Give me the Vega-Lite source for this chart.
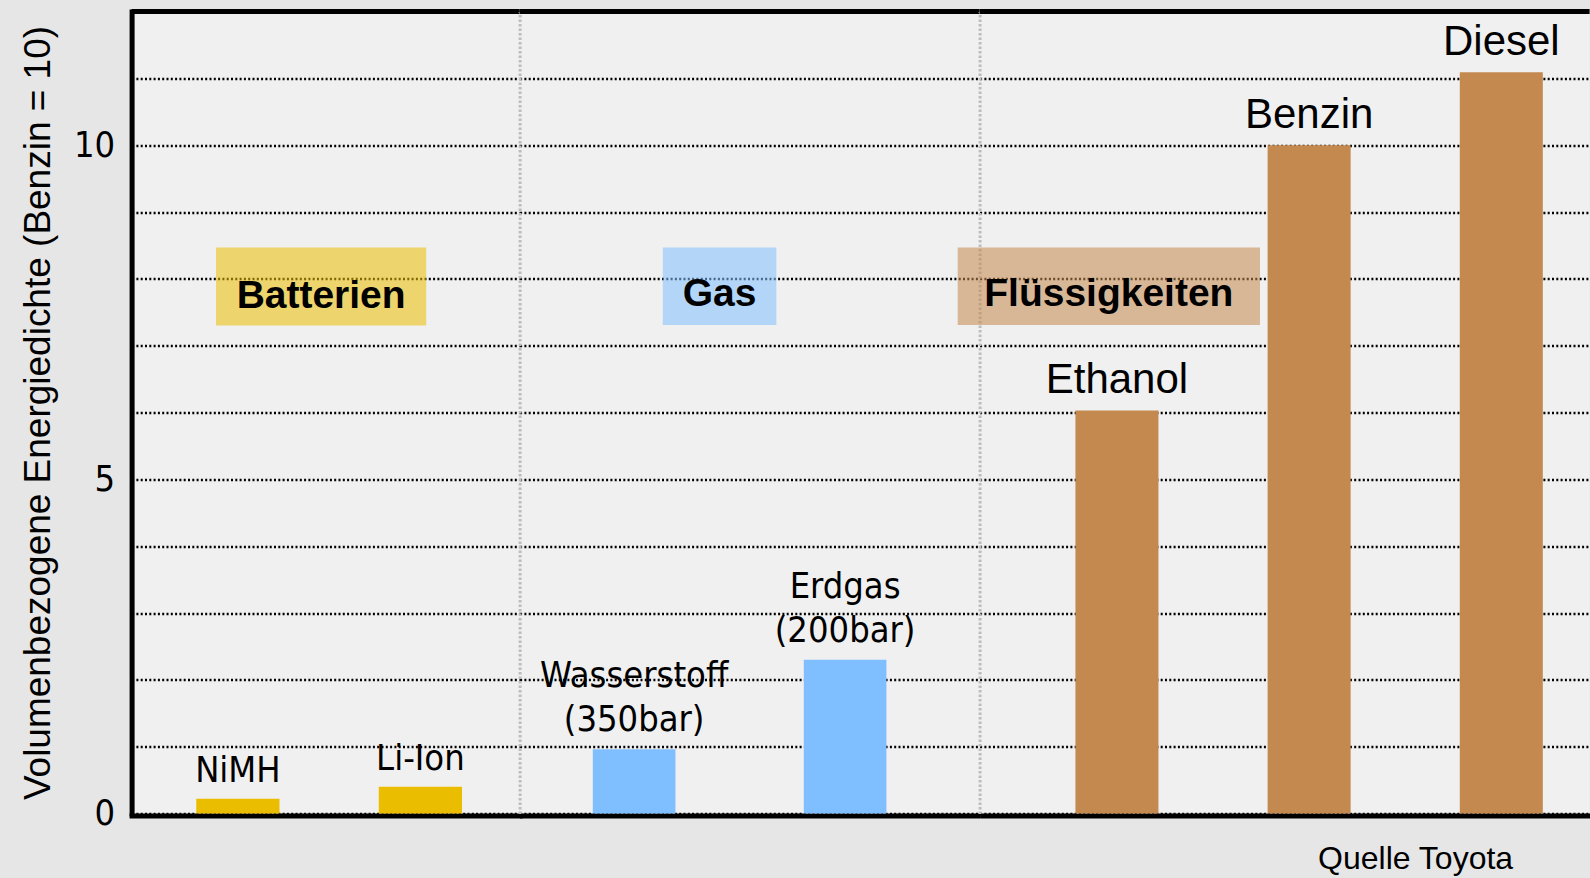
{
  "$schema": "https://vega.github.io/schema/vega-lite/v6.json",
  "background": "#e6e6e6",
  "padding": {"left": 18.6, "top": 8.5, "right": 0, "bottom": 3},
  "autosize": {"type": "pad"},
  "bounds": "flush",
  "spacing": 0,
  "config": {
    "view": {"fill": "#f0f0f0", "stroke": null},
    "font": "Liberation Sans",
    "axis": {"labelColor": "black", "titleColor": "black", "ticks": false, "tickSize": 0}
  },
  "datasets": {
    "fuels": [
      {"name": "NiMH", "label": "NiMH", "group": "Batterien", "value": 0.22},
      {"name": "Li-Ion", "label": "Li-Ion", "group": "Batterien", "value": 0.4},
      {"name": "Wasserstoff (350bar)", "label": "Wasserstoff\n(350bar)", "group": "Gas", "value": 0.96},
      {"name": "Erdgas (200bar)", "label": "Erdgas\n(200bar)", "group": "Gas", "value": 2.3},
      {"name": "Ethanol", "label": "Ethanol", "group": "Flüssigkeiten", "value": 6.03},
      {"name": "Benzin", "label": "Benzin", "group": "Flüssigkeiten", "value": 10},
      {"name": "Diesel", "label": "Diesel", "group": "Flüssigkeiten", "value": 11.09}
    ],
    "groups": [
      {"group": "Batterien", "from": "NiMH", "to": "Li-Ion"},
      {"group": "Gas", "from": "Wasserstoff (350bar)", "to": "Erdgas (200bar)"},
      {"group": "Flüssigkeiten", "from": "Ethanol", "to": "Ethanol"}
    ]
  },
  "hconcat": [
    {
      "width": 388,
      "height": 802,
      "layer": [
        {
          "data": {"name": "fuels"},
          "transform": [{"filter": "datum.group === 'Batterien'"}],
          "mark": {"type": "bar", "color": "#ebbd00"},
          "encoding": {
            "x": {"field": "name", "type": "nominal", "sort": null,
              "scale": {"domain": ["NiMH", "Li-Ion"], "paddingInner": 0.544, "paddingOuter": 0.335, "align": 0.529},
              "axis": {"title": null, "labels": false, "grid": false, "domainColor": "black", "domainWidth": 5, "domainCap": "square", "offset": 2}},
            "y": {"field": "value", "type": "quantitative",
              "scale": {"domain": [0, 12], "nice": false},
              "axis": {"title": "Volumenbezogene Energiedichte   (Benzin = 10)",
                "values": [0, 1, 2, 3, 4, 5, 6, 7, 8, 9, 10, 11, 12],
                "format": "d",
                "labelExpr": "datum.value % 5 === 0 ? datum.label : ''",
                "grid": true, "gridColor": "#000000", "gridWidth": 2.4, "gridDash": [2, 2.3],
                "domainColor": "black", "domainWidth": 5, "domainCap": "square",
                "labelFont": "DejaVu Sans Condensed", "labelFontSize": 36, "labelPadding": 17,
                "titleFont": "Liberation Sans", "titleFontSize": 37, "titleFontWeight": "normal", "titlePadding": 16}}
          }
        },
        {
          "data": {"name": "fuels"},
          "transform": [{"filter": "datum.group === 'Batterien'"}],
          "mark": {"type": "text", "baseline": "alphabetic", "dy": -17, "font": "DejaVu Sans Condensed", "fontSize": 36, "color": "black"},
          "encoding": {
            "x": {"field": "name", "type": "nominal", "sort": null},
            "y": {"field": "value", "type": "quantitative"},
            "text": {"field": "label"}
          }
        },
        {
          "data": {"name": "groups"},
          "transform": [{"filter": "datum.group === 'Batterien'"}],
          "mark": {"type": "rect", "color": "#ebbd00", "opacity": 0.55},
          "encoding": {
            "x": {"field": "from", "type": "nominal", "sort": null, "bandPosition": 0.237},
            "x2": {"field": "to", "bandPosition": 0.57},
            "y": {"datum": 7.3},
            "y2": {"datum": 8.47}
          }
        },
        {
          "data": {"name": "groups"},
          "transform": [{"filter": "datum.group === 'Batterien'"}],
          "mark": {"type": "text", "baseline": "alphabetic", "font": "Liberation Sans", "fontWeight": "bold", "fontSize": 39, "color": "black"},
          "encoding": {
            "x": {"field": "from", "type": "nominal", "sort": null, "bandPosition": 1.5},
            "y": {"datum": 7.57},
            "text": {"field": "group"}
          }
        },
        {
          "data": {"values": [{}]},
          "mark": {"type": "rule", "color": "black", "strokeWidth": 5},
          "encoding": {"y": {"datum": 12}}
        }
      ]
    },
    {
      "width": 460,
      "height": 802,
      "layer": [
        {
          "data": {"name": "fuels"},
          "transform": [{"filter": "datum.group === 'Gas'"}],
          "mark": {"type": "bar", "color": "#80bfff"},
          "encoding": {
            "x": {"field": "name", "type": "nominal", "sort": null,
              "scale": {"domain": ["Wasserstoff (350bar)", "Erdgas (200bar)"], "paddingInner": 0.6084, "paddingOuter": 0.3944, "align": 0.44},
              "axis": {"title": null, "labels": false, "grid": false, "domainColor": "black", "domainWidth": 5, "offset": 2}},
            "y": {"field": "value", "type": "quantitative",
              "scale": {"domain": [0, 12], "nice": false},
              "axis": {"title": null, "labels": false,
                "values": [0, 1, 2, 3, 4, 5, 6, 7, 8, 9, 10, 11, 12],
                "grid": true, "gridColor": "#000000", "gridWidth": 2.4, "gridDash": [2, 2.3],
                "domainColor": "#bdbdbd", "domainWidth": 3, "domainDash": [2.5, 2]}}
          }
        },
        {
          "data": {"name": "fuels"},
          "transform": [{"filter": "datum.group === 'Gas'"}],
          "mark": {"type": "text", "baseline": "alphabetic", "dy": -62, "lineBreak": "\n", "lineHeight": 44, "font": "DejaVu Sans Condensed", "fontSize": 36, "color": "black"},
          "encoding": {
            "x": {"field": "name", "type": "nominal", "sort": null},
            "y": {"field": "value", "type": "quantitative"},
            "text": {"field": "label"}
          }
        },
        {
          "data": {"name": "groups"},
          "transform": [{"filter": "datum.group === 'Gas'"}],
          "mark": {"type": "rect", "color": "#80bfff", "opacity": 0.55},
          "encoding": {
            "x": {"field": "from", "type": "nominal", "sort": null, "bandPosition": 0.847},
            "x2": {"field": "to", "bandPosition": -0.332},
            "y": {"datum": 7.31},
            "y2": {"datum": 8.47}
          }
        },
        {
          "data": {"name": "groups"},
          "transform": [{"filter": "datum.group === 'Gas'"}],
          "mark": {"type": "text", "baseline": "alphabetic", "font": "Liberation Sans", "fontWeight": "bold", "fontSize": 39, "color": "black"},
          "encoding": {
            "x": {"field": "from", "type": "nominal", "sort": null, "bandPosition": 1.535},
            "y": {"datum": 7.59},
            "text": {"field": "group"}
          }
        },
        {
          "data": {"values": [{}]},
          "mark": {"type": "rule", "color": "black", "strokeWidth": 5},
          "encoding": {"y": {"datum": 12}}
        }
      ]
    },
    {
      "width": 610,
      "height": 802,
      "layer": [
        {
          "data": {"name": "fuels"},
          "transform": [{"filter": "datum.group === 'Flüssigkeiten'"}],
          "mark": {"type": "bar", "color": "#c4894f"},
          "encoding": {
            "x": {"field": "name", "type": "nominal", "sort": null,
              "scale": {"domain": ["Ethanol", "Benzin", "Diesel"], "paddingInner": 0.568, "paddingOuter": 0.371, "align": 0.672},
              "axis": {"title": "Quelle Toyota", "labels": false, "grid": false, "domainColor": "black", "domainWidth": 5, "offset": 2,
                "titleFont": "Liberation Sans", "titleFontSize": 32, "titleFontWeight": "normal",
                "titleAlign": "right", "titleBaseline": "alphabetic", "titleX": 533, "titleY": 53}},
            "y": {"field": "value", "type": "quantitative",
              "scale": {"domain": [0, 12], "nice": false},
              "axis": {"title": null, "labels": false,
                "values": [0, 1, 2, 3, 4, 5, 6, 7, 8, 9, 10, 11, 12],
                "grid": true, "gridColor": "#000000", "gridWidth": 2.4, "gridDash": [2, 2.3],
                "domainColor": "#bdbdbd", "domainWidth": 3, "domainDash": [2.5, 2]}}
          }
        },
        {
          "data": {"name": "fuels"},
          "transform": [{"filter": "datum.group === 'Flüssigkeiten'"}],
          "mark": {"type": "text", "baseline": "alphabetic", "dy": -17, "font": "Liberation Sans", "fontSize": 42, "color": "black"},
          "encoding": {
            "x": {"field": "name", "type": "nominal", "sort": null},
            "y": {"field": "value", "type": "quantitative"},
            "text": {"field": "label"}
          }
        },
        {
          "data": {"name": "groups"},
          "transform": [{"filter": "datum.group === 'Flüssigkeiten'"}],
          "mark": {"type": "rect", "color": "#c4894f", "opacity": 0.55},
          "encoding": {
            "x": {"field": "from", "type": "nominal", "sort": null, "bandPosition": -1.418},
            "x2": {"field": "to", "bandPosition": 2.223},
            "y": {"datum": 7.31},
            "y2": {"datum": 8.47}
          }
        },
        {
          "data": {"name": "groups"},
          "transform": [{"filter": "datum.group === 'Flüssigkeiten'"}],
          "mark": {"type": "text", "baseline": "alphabetic", "font": "Liberation Sans", "fontWeight": "bold", "fontSize": 39, "color": "black"},
          "encoding": {
            "x": {"field": "from", "type": "nominal", "sort": null, "bandPosition": 0.402},
            "y": {"datum": 7.59},
            "text": {"field": "group"}
          }
        },
        {
          "data": {"values": [{}]},
          "mark": {"type": "rule", "color": "black", "strokeWidth": 5},
          "encoding": {"y": {"datum": 12}}
        }
      ]
    }
  ]
}
